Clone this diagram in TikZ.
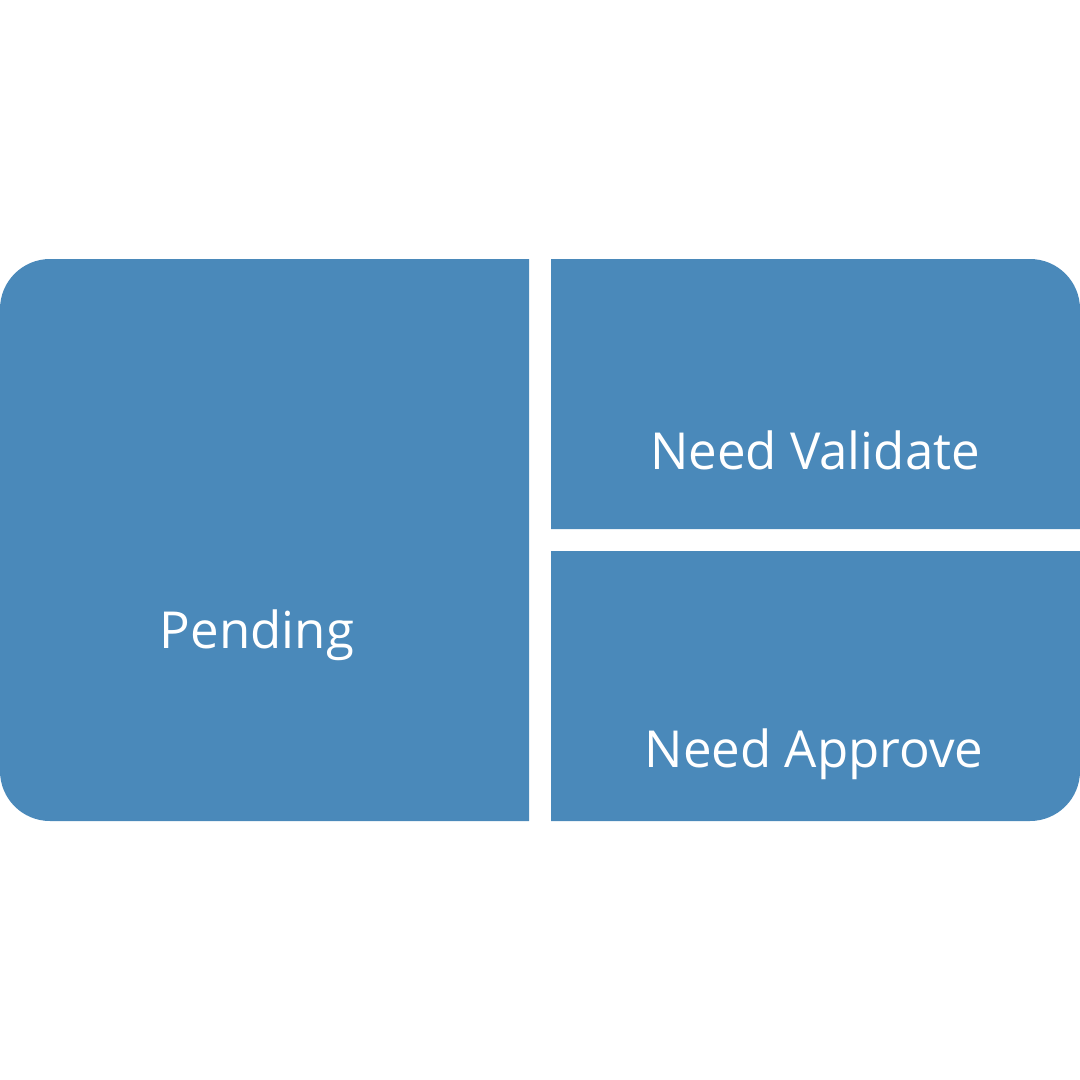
\documentclass[tikz,border=0pt]{standalone}
\usepackage{fontspec}
\setmainfont{Open Sans}
\definecolor{boxblue}{RGB}{74,137,186}
\begin{document}
\begin{tikzpicture}[x=1pt,y=-1pt,
  panel/.style={fill=boxblue,draw=none},
  lbl/.style={text=white,font=\fontsize{51}{58}\selectfont,inner sep=0pt,anchor=base}]
\useasboundingbox (0,0) rectangle (1080,1080);
% left panel (Pending)
\path[panel] (529,259) -- (50,259) arc[start angle=-90,end angle=-180,radius=50] -- (0,771) arc[start angle=180,end angle=90,radius=50] -- (529,821) -- cycle;
% top right panel
\path[panel] (551,259) -- (1030,259) arc[start angle=-90,end angle=0,radius=50] -- (1080,529) -- (551,529) -- cycle;
% bottom right panel
\path[panel] (551,551) -- (1080,551) -- (1080,771) arc[start angle=0,end angle=90,radius=50] -- (551,821) -- cycle;
\node[lbl] (pending) at (257,648) {Pending};
\node[lbl] (validate) at (815,469) {Need Validate};
\node[lbl] (approve) at (814,767) {Need Approve};
\end{tikzpicture}
\end{document}
